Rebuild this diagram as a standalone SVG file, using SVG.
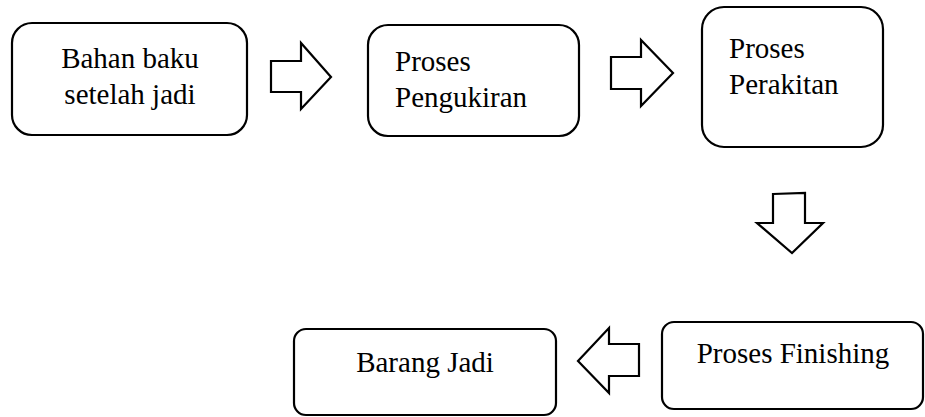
<svg xmlns="http://www.w3.org/2000/svg" width="925" height="417" viewBox="0 0 925 417">
<style>
.box{fill:#fff;stroke:#000;stroke-width:2.2}
.arr{fill:#fff;stroke:#000;stroke-width:2.2;stroke-linejoin:miter}
text{font-family:"Liberation Serif","Times New Roman",serif;font-size:29px;fill:#000}
.c{text-anchor:middle}
</style>
<rect width="925" height="417" fill="#fff"/>
<g id="node-bahan">
<rect class="box" x="12" y="23" width="235" height="112" rx="20"/>
<text class="c" x="130" y="68">Bahan baku</text>
<text class="c" x="130" y="104">setelah jadi</text>
</g>
<g id="node-pengukiran">
<rect class="box" x="368" y="25" width="211" height="111" rx="20"/>
<text x="395" y="71">Proses</text>
<text x="395" y="107">Pengukiran</text>
</g>
<g id="node-perakitan">
<rect class="box" x="702" y="7" width="181" height="140" rx="22"/>
<text x="729" y="58">Proses</text>
<text x="729" y="94">Perakitan</text>
</g>
<g id="node-finishing">
<rect class="box" x="662" y="322" width="261" height="87" rx="12"/>
<text class="c" x="793" y="363">Proses Finishing</text>
</g>
<g id="node-barang">
<rect class="box" x="294" y="329" width="262" height="86" rx="12"/>
<text class="c" x="425" y="372">Barang Jadi</text>
</g>
<g id="connectors">
<polygon class="arr" points="271,61 301,61 301,43 331,77 301,109 301,92 271,92"/>
<polygon class="arr" points="611,57 641,57 641,40 673,73 641,106 641,89 611,89"/>
<polygon class="arr" points="773,194 805,193 805,223 823,223 792,253 757,223 773,223"/>
<polygon class="arr" points="578,361 609,328 609,344 639,344 639,376 609,376 609,393"/>
</g>
</svg>
